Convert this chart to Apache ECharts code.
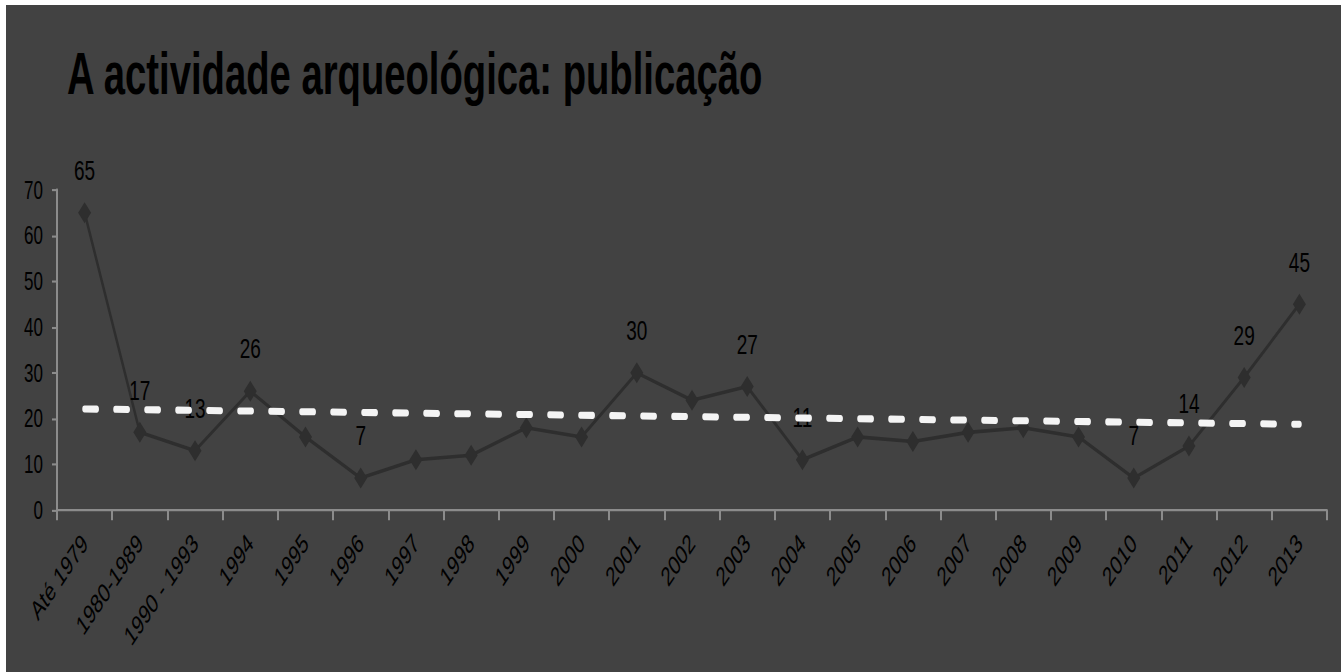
<!DOCTYPE html>
<html>
<head>
<meta charset="utf-8">
<script src="https://cdn.jsdelivr.net/npm/echarts@6/dist/echarts.min.js"></script>
<style>
html,body{margin:0;padding:0;background:#ffffff;width:1341px;height:672px;overflow:hidden;}
#frame{position:absolute;left:6px;top:5px;width:1335px;height:667px;background:#424242;overflow:hidden;}
#chart{position:absolute;left:0;top:0;width:1335px;height:445px;transform-origin:0 0;transform:scaleY(1.4989);}
</style>
</head>
<body>
<div id="frame"><div id="chart"></div></div>
<script>
const titleText = 'A actividade arqueológica: publicação';
const categories = ['Até 1979','1980-1989','1990 - 1993','1994','1995','1996','1997','1998','1999','2000','2001','2002','2003','2004','2005','2006','2007','2008','2009','2010','2011','2012','2013'];
const values = [65,17,13,26,16,7,11,12,18,16,30,24,27,11,16,15,17,18,16,7,14,29,45];
const labelledIdx = [0,1,2,3,5,10,12,13,19,20,21,22];
const yTicks = [0,10,20,30,40,50,60,70];

// linear trend line (least squares), as the spreadsheet's trendline
const n = values.length;
const xm = (n - 1) / 2;
const ym = values.reduce((a, b) => a + b, 0) / n;
let sxy = 0, sxx = 0;
values.forEach((v, i) => { sxy += (i - xm) * (v - ym); sxx += (i - xm) * (i - xm); });
const slope = sxy / sxx;
const trend = values.map((v, i) => +(ym + slope * (i - xm)).toFixed(3));

const FONT = '"Liberation Sans", Arial, sans-serif';
const TITLE_FONT = 'bold 40px "Liberation Sans", Arial, sans-serif';
const TITLE_WIDTH = 697;
const ctx = document.createElement('canvas').getContext('2d');
ctx.font = TITLE_FONT;
const titleScaleX = TITLE_WIDTH / ctx.measureText(titleText).width;

const chart = echarts.init(document.getElementById('chart'), null, {renderer: 'svg'});
chart.setOption({
  backgroundColor: '#424242',
  animation: false,
  graphic: [{
    type: 'text',
    x: 61,
    y: 25.5,
    scaleX: titleScaleX,
    style: {
      text: titleText,
      fill: '#000000',
      font: TITLE_FONT,
      verticalAlign: 'top'
    }
  }],
  grid: {left: 51, right: 14, top: 123.3, bottom: 108, containLabel: false},
  xAxis: {
    type: 'category',
    data: categories,
    boundaryGap: true,
    axisLine: {lineStyle: {color: '#8c8c8c', width: 1.6}},
    axisTick: {show: true, length: 6.7, lineStyle: {color: '#8c8c8c', width: 2}},
    axisLabel: {rotate: 45, color: '#000000', fontSize: 18, fontFamily: FONT, margin: 19, interval: 0}
  },
  yAxis: {
    type: 'value',
    min: 0, max: 70, interval: 10,
    axisLine: {show: true, lineStyle: {color: '#8c8c8c', width: 2}},
    axisTick: {show: true, length: 5, lineStyle: {color: '#8c8c8c', width: 1.4}},
    splitLine: {show: false},
    axisLabel: {color: '#000000', fontSize: 17, fontFamily: FONT, margin: 14,
      formatter: v => yTicks.includes(v) ? String(v) : ''}
  },
  series: [{
    type: 'line',
    z: 2,
    data: values.map((v, i) => ({
      value: v,
      label: {show: labelledIdx.includes(i)}
    })),
    symbol: 'diamond',
    symbolSize: [13, 14],
    itemStyle: {color: '#2e2e2e'},
    lineStyle: {color: '#2e2e2e', width: 2.4},
    label: {position: 'top', distance: 12, color: '#000000', fontSize: 19, fontFamily: FONT}
  }, {
    type: 'line',
    z: 5,
    data: trend,
    symbol: 'none',
    silent: true,
    lineStyle: {color: '#f4f4f4', width: 4.7, type: [12, 19], cap: 'round'}
  }]
});
</script>
</body>
</html>
